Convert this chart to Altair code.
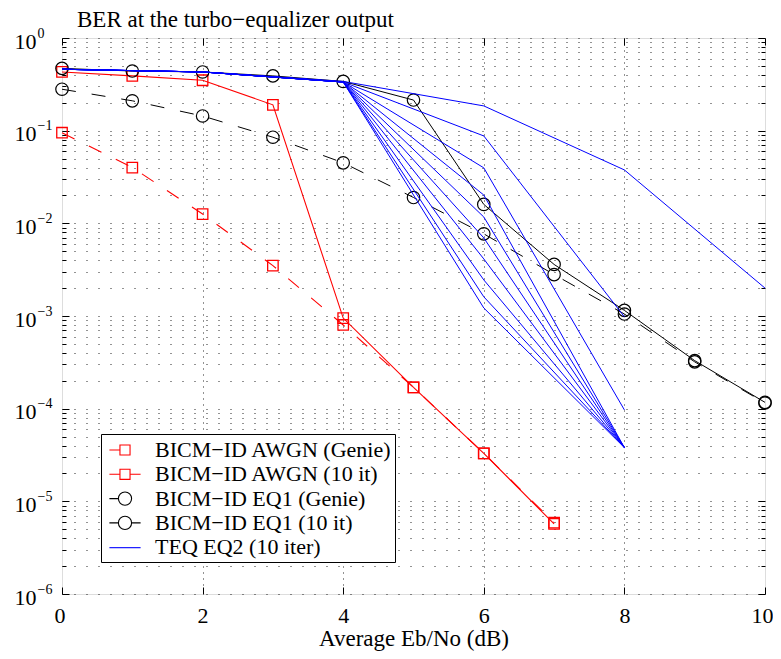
import altair as alt
import pandas as pd

SERIF = "Liberation Serif"

# ---------------- data ----------------
names = [
    "BICM\u2212ID AWGN (Genie)",
    "BICM\u2212ID AWGN (10 it)",
    "BICM\u2212ID EQ1 (Genie)",
    "BICM\u2212ID EQ1 (10 it)",
    "TEQ EQ2 (10 iter)",
]
colors = ["#ff0000", "#ff0000", "#000000", "#000000", "#0000ff"]

awgn_x = [0, 1, 2, 3, 4, 5, 6, 7]
awgn_genie = [0.095, 0.040, 0.0126, 0.0035, 0.00080, 0.00017, 3.3e-5, 5.9e-6]
awgn_10it = [0.43, 0.39, 0.35, 0.19, 0.00095, 0.00017, 3.3e-5, 5.7e-6]

eq1_x = [0, 1, 2, 3, 4, 5, 6, 7, 8, 9, 10]
eq1_genie = [0.28, 0.21, 0.144, 0.085, 0.045, 0.019, 0.0077, 0.0028, 0.00105, 0.00032, 0.000115]
eq1_10it = [0.47, 0.44, 0.43, 0.39, 0.34, 0.214, 0.016, 0.0036, 0.00115, 0.00033, 0.000117]

teq_x = [0, 2, 4, 6, 8, 10]
teq_iter = [
    [0.46, 0.43, 0.34, 0.185, 0.0377, 0.0020],
    [0.46, 0.43, 0.335, 0.0877, 0.00098],
    [0.46, 0.43, 0.335, 0.0397, 9.7e-5],
    [0.46, 0.43, 0.335, 0.0202, 3.8e-5],
    [0.46, 0.43, 0.335, 0.0117, 3.8e-5],
    [0.46, 0.43, 0.335, 0.00696, 3.8e-5],
    [0.46, 0.43, 0.335, 0.00413, 3.8e-5],
    [0.46, 0.43, 0.335, 0.00245, 3.8e-5],
    [0.46, 0.43, 0.335, 0.00161, 3.8e-5],
    [0.46, 0.43, 0.335, 0.00122, 3.8e-5],
]

x_ticks = [0, 2, 4, 6, 8, 10]
decades = [1e-6, 1e-5, 1e-4, 1e-3, 1e-2, 1e-1, 1.0]
minors = [m * 10.0 ** k for k in range(-6, 0) for m in range(2, 10)]
all_y = sorted(decades + minors)

# ---------------- table ----------------
rows = []
for xv, yv in zip(awgn_x, awgn_genie):
    rows.append({"series": names[0], "line": "a0", "x": xv, "ber": yv})
for xv, yv in zip(awgn_x, awgn_10it):
    rows.append({"series": names[1], "line": "a1", "x": xv, "ber": yv})
for xv, yv in zip(eq1_x, eq1_genie):
    rows.append({"series": names[2], "line": "e0", "x": xv, "ber": yv})
for xv, yv in zip(eq1_x, eq1_10it):
    rows.append({"series": names[3], "line": "e1", "x": xv, "ber": yv})
for i, vals in enumerate(teq_iter):
    for xv, yv in zip(teq_x, vals):
        rows.append({"series": names[4], "line": f"t{i}", "x": xv, "ber": yv})
df = pd.DataFrame(rows)

W, H = 703, 556

xscale = alt.Scale(domain=[0, 10], nice=False, zero=False)
yscale = alt.Scale(type="log", domain=[1e-6, 1], nice=False)


def blank(**kw):
    base = dict(labels=False, ticks=False, domain=False, grid=False, title=None)
    base.update(kw)
    return alt.Axis(**base)


# axes
ax_y_grid = blank(orient="left", values=all_y, grid=True, gridDash=[1, 11],
                  gridColor="black", gridWidth=1, gridOpacity=0.85)
ax_y_ten = alt.Axis(orient="left", values=decades, labelExpr="'10'", labelAlign="left",
                    labelPadding=48, tickSize=0, ticks=False, domain=False, grid=False,
                    labelFont=SERIF, labelFontSize=22, labelColor="black", labelOffset=3,
                    labelOverlap=False, labelBound=False, title=None)
ax_y_exp = alt.Axis(orient="left", values=decades,
                    labelExpr="datum.value >= 0.5 ? '0' : '\u2212' + round(-log(datum.value)/LN10)",
                    labelAlign="left", labelPadding=25, tickSize=0, ticks=False, domain=False,
                    grid=False, labelFont=SERIF, labelFontSize=14, labelColor="black",
                    labelOffset=-5, labelOverlap=False, labelBound=False, title=None)
ax_y_lmaj = blank(orient="right", offset=-W, values=decades, ticks=True, tickSize=7,
                  tickColor="black", tickWidth=1)
ax_y_lmin = blank(orient="right", offset=-W, values=minors, ticks=True, tickSize=4,
                  tickColor="black", tickWidth=1)
ax_y_rmaj = blank(orient="left", offset=-W, values=decades, ticks=True, tickSize=7,
                  tickColor="black", tickWidth=1)
ax_y_rmin = blank(orient="left", offset=-W, values=minors, ticks=True, tickSize=4,
                  tickColor="black", tickWidth=1)

ax_x_grid = blank(orient="bottom", values=[2, 4, 6, 8], grid=True, gridDash=[1, 5],
                  gridColor="black", gridWidth=1, gridOpacity=0.85)
ax_x_lab = alt.Axis(orient="bottom", values=x_ticks, ticks=False, tickSize=0, domain=False,
                    grid=False, labelFont=SERIF, labelFontSize=22, labelColor="black",
                    labelPadding=11, labelFlush=True, labelFlushOffset=8, format="d",
                    title="Average Eb/No (dB)", titleFont=SERIF, titleFontSize=23,
                    titleFontWeight="normal", titleColor="black", titlePadding=1)
ax_x_bot = blank(orient="top", offset=-H, values=x_ticks, ticks=True, tickSize=7,
                 tickColor="black", tickWidth=1)
ax_x_top = blank(orient="bottom", offset=-H, values=x_ticks, ticks=True, tickSize=7,
                 tickColor="black", tickWidth=1)


def enc(xa, ya):
    return dict(
        x=alt.X("x:Q", scale=xscale, axis=xa),
        y=alt.Y("ber:Q", scale=yscale, axis=ya),
    )


base = alt.Chart(df)

red_dash = base.transform_filter(alt.datum.line == "a0").mark_line(
    color="#ff0000", strokeWidth=1.1, strokeDash=[14, 16]
).encode(**enc(ax_x_grid, ax_y_grid))

red_solid = base.transform_filter(alt.datum.line == "a1").mark_line(
    color="#ff0000", strokeWidth=1.1
).encode(**enc(ax_x_lab, ax_y_ten))

red_pts = base.transform_filter("datum.line == 'a0' || datum.line == 'a1'").mark_point(
    shape="square", size=110, filled=False, color="#ff0000", strokeWidth=1.3, opacity=1
).encode(**enc(ax_x_bot, ax_y_exp))

blk_dash = base.transform_filter(alt.datum.line == "e0").mark_line(
    color="black", strokeWidth=1, strokeDash=[14, 16]
).encode(**enc(ax_x_top, ax_y_lmaj))

blk_solid = base.transform_filter(alt.datum.line == "e1").mark_line(
    color="black", strokeWidth=1
).encode(**enc(None, ax_y_lmin))

blk_pts = base.transform_filter("datum.line == 'e0' || datum.line == 'e1'").mark_point(
    shape="circle", size=155, filled=False, color="black", strokeWidth=1.2, opacity=1
).encode(**enc(None, ax_y_rmaj))

blue = base.transform_filter(alt.datum.series == names[4]).mark_line(
    color="#0000ff", strokeWidth=1
).encode(detail="line:N", **enc(None, ax_y_rmin))

# legend symbols (line + marker glyphs) as custom symbol paths
sq = "M-0.42,-0.42H0.42V0.42H-0.42Z"
circ = "M-0.55,0A0.55,0.55,0,1,1,0.55,0A0.55,0.55,0,1,1,-0.55,0Z"
paths = [
    "M-1.3,0H-0.42" + sq,
    "M-1.3,0H-0.42M0.42,0H1.3" + sq,
    "M-1.3,0H-0.55" + circ,
    "M-1.3,0H-0.55M0.55,0H1.3" + circ,
    "M-1.3,0.04H1.3",
]
leg = alt.Legend(orient="none", legendX=39, legendY=396, title=None,
                 fillColor="white", strokeColor="black", padding=3,
                 labelFont=SERIF, labelFontSize=22, labelColor="black", labelLimit=0,
                 symbolSize=576, symbolStrokeWidth=1.1, symbolOffset=8,
                 labelOffset=17, rowPadding=0.3)
legend_layer = base.transform_filter("false").mark_point(filled=False, opacity=1).encode(
    x=alt.X("x:Q", scale=xscale, axis=None),
    y=alt.Y("ber:Q", scale=yscale, axis=None),
    shape=alt.Shape("series:N", scale=alt.Scale(domain=names, range=paths), legend=leg),
    color=alt.Color("series:N", scale=alt.Scale(domain=names, range=colors), legend=leg),
)

chart = alt.layer(
    red_dash, red_solid, red_pts, blk_dash, blk_solid, blk_pts, blue, legend_layer
).resolve_axis(x="independent", y="independent").properties(
    width=W, height=H,
    title=alt.TitleParams("BER at the turbo\u2212equalizer output", anchor="start",
                          frame="group", font=SERIF, fontSize=23, fontWeight="normal",
                          color="black", dx=15, dy=6, offset=0),
    autosize=alt.AutoSizeParams(type="none"),
    padding={"left": 54, "top": 30, "right": 8, "bottom": 57},
).configure_view(stroke="black", strokeWidth=1.5).configure(background="white")

chart.save("out.html", embed_options={"renderer": "svg", "actions": False})
